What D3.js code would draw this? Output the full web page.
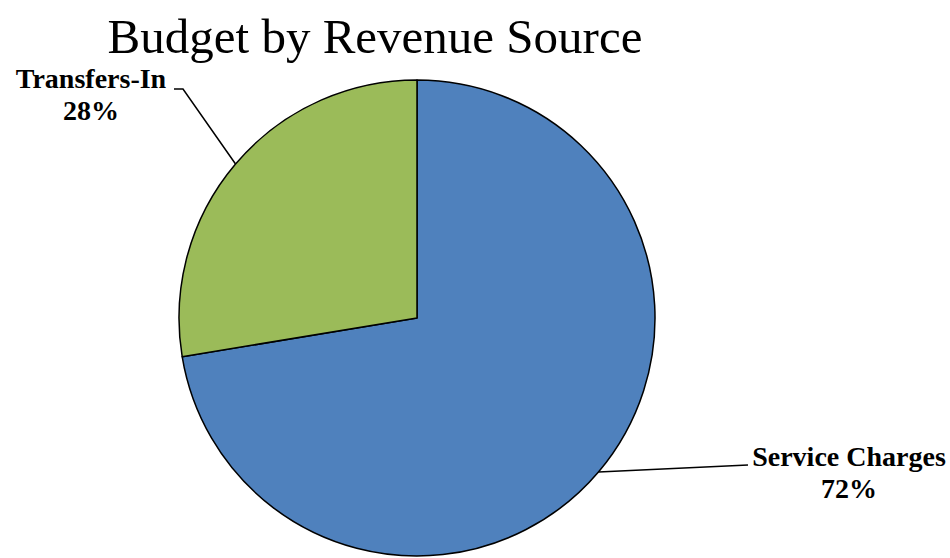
<!DOCTYPE html>
<html><head><meta charset="utf-8">
<script src="https://cdn.jsdelivr.net/npm/d3@7"></script>
<style>html,body{margin:0;padding:0;background:#fff;}svg{display:block;}</style>
</head><body>
<svg id="chart" width="950" height="558"></svg>
<script>
const categories = ["Service Charges", "Transfers-In"];
const values = [72.4, 27.6];
const percentLabels = ["72%", "28%"];
const colors = ["#4F81BD", "#9BBB59"];
const title = "Budget by Revenue Source";

const svg = d3.select("#chart");
const cx = 417, cy = 318, r = 238;

svg.append("text").attr("x", 375).attr("y", 53).attr("text-anchor", "middle")
  .attr("font-family", "Liberation Serif, serif").attr("font-size", 49).attr("fill", "#000")
  .text(title);

const data = categories.map((c, i) => ({ name: c, value: values[i], label: percentLabels[i], color: colors[i] }));
const pie = d3.pie().value(d => d.value).sort(null);
const arcs = pie(data);
const arc = d3.arc().innerRadius(0).outerRadius(r);

const g = svg.append("g").attr("transform", `translate(${cx},${cy})`);
g.selectAll("path").data(arcs).join("path")
  .attr("d", arc).attr("fill", d => d.data.color)
  .attr("stroke", "#000").attr("stroke-width", 1.5).attr("stroke-linejoin", "round");

// leader lines & labels
const labelPos = [
  { lx: 849, ly: 466, ex: 748, ey: 465 },
  { lx: 91, ly: 88, ex: 174, ey: 89, mx: 183 }
];
arcs.forEach((a, i) => {
  const p = labelPos[i];
  const ang = (a.startAngle + a.endAngle) / 2;
  const sx = cx + r * Math.sin(ang), sy = cy - r * Math.cos(ang);
  const pts = i === 0 ? [[sx, sy], [p.ex, p.ey]] : [[sx, sy], [p.mx, p.ey], [p.ex, p.ey]];
  svg.append("path").attr("d", d3.line()(pts)).attr("fill", "none").attr("stroke", "#000").attr("stroke-width", 1.5);
  const t = svg.append("text").attr("text-anchor", "middle")
    .attr("font-family", "Liberation Serif, serif").attr("font-weight", "bold").attr("font-size", 28).attr("fill", "#000");
  t.append("tspan").attr("x", p.lx).attr("y", p.ly).text(a.data.name);
  t.append("tspan").attr("x", p.lx).attr("y", p.ly + 32).text(a.data.label);
});
</script>
</body></html>
